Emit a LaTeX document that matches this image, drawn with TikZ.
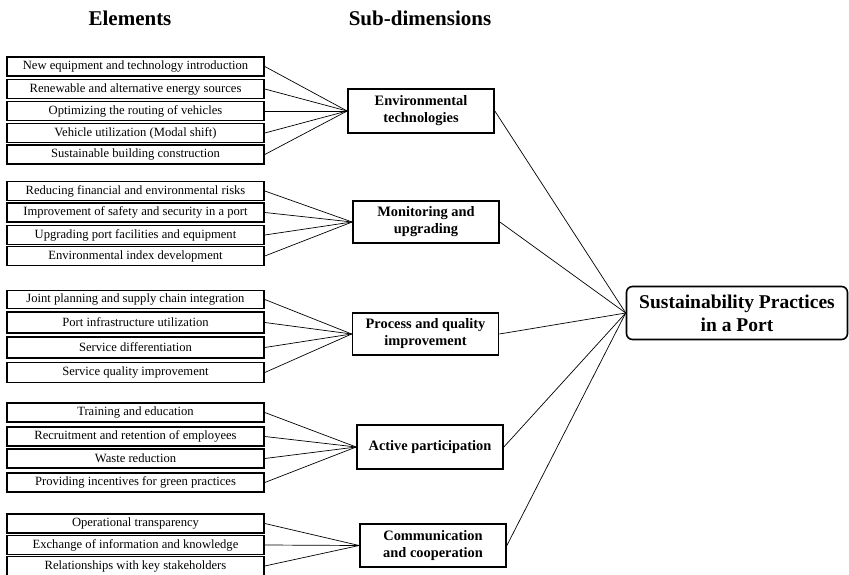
\documentclass[tikz,border=0pt]{standalone}
\usepackage{fontspec}
\setmainfont{Liberation Serif}
\begin{document}
\begin{tikzpicture}[x=1pt,y=-1pt,
  elem/.style={draw, line width=1.6pt, fill=white, inner sep=0pt, minimum width=257pt, minimum height=19pt, font=\fontsize{12.6}{14}\selectfont},
  sub/.style={draw, line width=1.7pt, fill=white, inner sep=0pt, minimum width=146pt, minimum height=43pt, align=center, font=\fontsize{14.4}{17}\selectfont\bfseries},
  head/.style={font=\fontsize{21}{24}\selectfont\bfseries},
  conn/.style={line width=0.7pt}]
\useasboundingbox (0,0) rectangle (849,575);
% headers
\node[head] (h1) at (130,18) {Elements};
\node[head] (h2) at (420,18) {Sub-dimensions};
% group 1
\node[elem] (e11) at (135.5,66.5) {New equipment and technology introduction};
\node[elem] (e12) at (135.5,89) {Renewable and alternative energy sources};
\node[elem] (e13) at (135.5,111) {Optimizing the routing of vehicles};
\node[elem] (e14) at (135.5,133) {Vehicle utilization (Modal shift)};
\node[elem] (e15) at (135.5,154.5) {Sustainable building construction};
\node[sub, minimum height=44pt] (s1) at (421,111) {Environmental\\technologies};
% group 2
\node[elem] (e21) at (135.5,191) {Reducing financial and environmental risks};
\node[elem] (e22) at (135.5,212.5) {Improvement of safety and security in a port};
\node[elem] (e23) at (135.5,235) {Upgrading port facilities and equipment};
\node[elem] (e24) at (135.5,256) {Environmental index development};
\node[sub, minimum height=42pt] (s2) at (426,222) {Monitoring and\\upgrading};
% group 3
\node[elem, minimum height=18pt] (e31) at (135.5,299.5) {Joint planning and supply chain integration};
\node[elem, minimum height=21pt] (e32) at (135.5,322.5) {Port infrastructure utilization};
\node[elem, minimum height=21pt] (e33) at (135.5,347.5) {Service differentiation};
\node[elem, minimum height=20pt] (e34) at (135.5,372.5) {Service quality improvement};
\node[sub, minimum height=42pt] (s3) at (425.5,334) {Process and quality\\improvement};
% group 4
\node[elem] (e41) at (135.5,412.5) {Training and education};
\node[elem] (e42) at (135.5,436.5) {Recruitment and retention of employees};
\node[elem] (e43) at (135.5,458.5) {Waste reduction};
\node[elem] (e44) at (135.5,482.5) {Providing incentives for green practices};
\node[sub, minimum height=44pt] (s4) at (430,447) {Active participation};
% group 5
\node[elem] (e51) at (135.5,523.5) {Operational transparency};
\node[elem] (e52) at (135.5,545) {Exchange of information and knowledge};
\node[elem] (e53) at (135.5,566) {Relationships with key stakeholders};
\node[sub, minimum height=43pt] (s5) at (433,545.5) {Communication\\and cooperation};
% main
\node[draw, line width=1.6pt, rounded corners=6pt, fill=white, inner sep=0pt, minimum width=221pt, minimum height=53pt, align=center, font=\fontsize{19.5}{23}\selectfont\bfseries] (m) at (737,313) {Sustainability Practices\\in a Port};
% connectors
\foreach \e in {e11,e12,e13,e14,e15} \draw[conn] (\e.east) -- (s1.west);
\foreach \e in {e21,e22,e23,e24} \draw[conn] (\e.east) -- (s2.west);
\foreach \e in {e31,e32,e33,e34} \draw[conn] (\e.east) -- (s3.west);
\foreach \e in {e41,e42,e43,e44} \draw[conn] (\e.east) -- (s4.west);
\foreach \e in {e51,e52,e53} \draw[conn] (\e.east) -- (s5.west);
\foreach \s in {s1,s2,s3,s4,s5} \draw[conn] (\s.east) -- (m.west);
\end{tikzpicture}
\end{document}
